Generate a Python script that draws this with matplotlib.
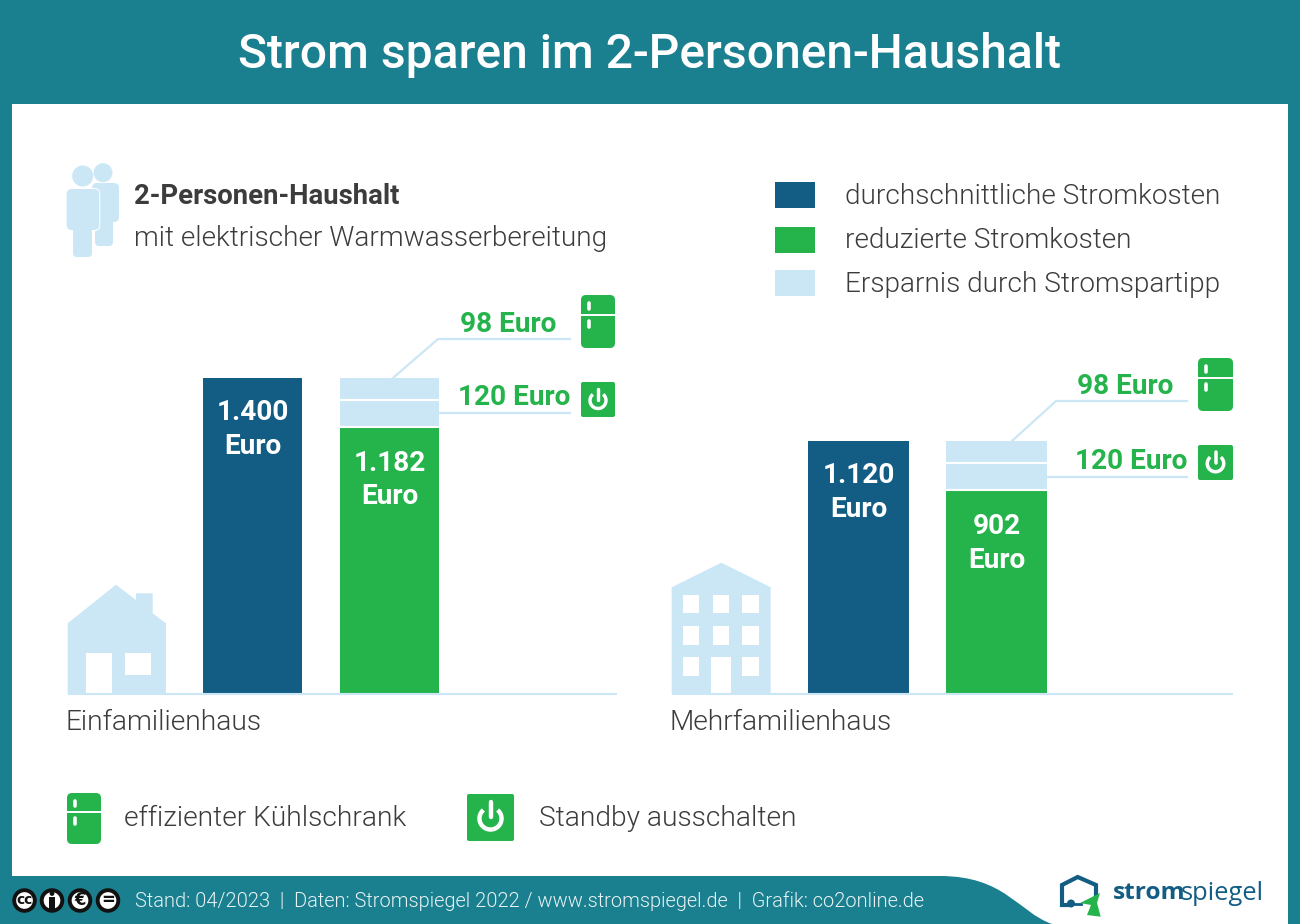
import numpy as np
import matplotlib
matplotlib.use("Agg")
import matplotlib.pyplot as plt
from matplotlib.patches import FancyBboxPatch, Polygon, Circle, Rectangle, PathPatch
from matplotlib.path import Path

# ---------- data ----------
categories = ["durchschnittliche Stromkosten", "reduzierte Stromkosten"]
house_types = ["Einfamilienhaus", "Mehrfamilienhaus"]
average_costs = [1400, 1120]
reduced_costs = [1182, 902]
saving_standby = [120, 120]
saving_fridge = [98, 98]
avg_labels = ["1.400\nEuro", "1.120\nEuro"]
red_labels = ["1.182\nEuro", "902\nEuro"]
fridge_label = "98 Euro"
standby_label = "120 Euro"
legend_labels = ["durchschnittliche Stromkosten", "reduzierte Stromkosten", "Ersparnis durch Stromspartipp"]

TEAL = "#1A7F8E"; BLUE = "#135D85"; GREEN = "#25B34B"; LIGHT = "#CBE7F6"; DARK = "#3C3C3C"
plt.rcParams["font.family"] = ["Roboto", "DejaVu Sans"]
PX = 0.72

fig = plt.figure(figsize=(13, 9.24), dpi=100, facecolor=TEAL)
bg = fig.add_axes([0, 0, 1, 1]); bg.set_xlim(0, 1300); bg.set_ylim(924, 0); bg.axis("off")

# white panel with curved footer
verts = [(12,104),(1288,104),(1288,924),(1052,924),(1018,912),(1005,876),(940,876),(12,876),(12,104)]
codes = [Path.MOVETO,Path.LINETO,Path.LINETO,Path.LINETO,Path.CURVE4,Path.CURVE4,Path.CURVE4,Path.LINETO,Path.CLOSEPOLY]
bg.add_patch(PathPatch(Path(verts,codes), fc="white", ec="none"))

def T(x,y,s,px,color=DARK,weight=300,ha="left",va="center",**k):
    return bg.text(x,y,s,fontsize=px*PX,color=color,fontweight=weight,ha=ha,va=va,**k)

T(650,55,"Strom sparen im 2-Personen-Haushalt",48.05,"white",500,ha="center")
T(134,196,"2-Personen-Haushalt",27.5,DARK,600)
T(133.5,238,"mit elektrischer Warmwasserbereitung",28,DARK,300)

# legend
for (y0,c,lab,yt) in zip([182,227,270],[BLUE,GREEN,LIGHT],legend_labels,[196,240,284]):
    bg.add_patch(Rectangle((775,y0),40,26,fc=c,ec="none"))
    T(845,yt,lab,28)

def rrect(x0,y0,x1,y1,r,fc,z=3):
    bg.add_patch(FancyBboxPatch((x0,y0),x1-x0,y1-y0,boxstyle=f"round,pad=0,rounding_size={r}",fc=fc,ec="none",zorder=z))

def fridge(x0,y0,x1,y1):
    rrect(x0,y0,x1,y1,5,GREEN)
    h=y1-y0
    ym=y0+h*0.37
    bg.plot([x0,x1],[ym,ym],color="white",lw=1.4,zorder=4,solid_capstyle="butt")
    xp=x0+(x1-x0)*0.235
    for a,b in [(0.16,0.26),(0.49,0.60)]:
        bg.plot([xp,xp],[y0+h*a,y0+h*b],color="white",lw=2.6,zorder=4,solid_capstyle="round")

def power(x0,y0,x1,y1):
    rrect(x0,y0,x1,y1,2,GREEN)
    cx,cy=(x0+x1)/2,(y0+y1)/2+1
    s=x1-x0; r=s*0.235
    t=np.radians(np.linspace(-50,230,60))
    bg.plot(cx+r*np.cos(t),cy+r*np.sin(t),color="white",lw=s*0.055+0.6,zorder=4,solid_capstyle="butt")
    bg.plot([cx,cx],[cy-r*1.45,cy-r*0.1],color="white",lw=s*0.055+0.6,zorder=4,solid_capstyle="round")

# person icon
def person(hx,hy,hr,tx0,tx1,ty0,ty1,lx0,lx1,ly1,halo=False,z=2):
    bg.add_patch(Circle((hx,hy),hr,fc=LIGHT,ec="none",zorder=z))
    if halo:
        rrect(tx0-1,ty0-1,tx1+1,ty1+1,6,"white",z)
    rrect(lx0,ty0+10,lx1,ly1,4,LIGHT,z)
    rrect(tx0,ty0,tx1,ty1,5,LIGHT,z)
person(103,172.7,9.5,92,119,183,222,95,113,246)
person(82.7,176,10.5,66.7,99.3,189,230,73,92,257,halo=True,z=3)

# house
bg.add_patch(Polygon([(67.7,623.3),(116,584.7),(136,600),(136,593.3),(152.7,593.3),(152.7,613.3),(166,623.3),(166,694),(67.7,694)],fc=LIGHT,ec="none"))
bg.add_patch(Rectangle((86,653.3),26,40.7,fc="white",ec="none"))
bg.add_patch(Rectangle((125.3,653.3),25.7,21.7,fc="white",ec="none"))
# apartment
bg.add_patch(Polygon([(671.7,587.3),(721.3,562.7),(770.7,587.3),(770.7,694),(671.7,694)],fc=LIGHT,ec="none"))
for wx in (683,712.7,742.3):
    for wy in (595,626.3,657.3):
        if not (wx==712.7 and wy==657.3):
            bg.add_patch(Rectangle((wx,wy),16.3,18.3,fc="white",ec="none"))
bg.add_patch(Rectangle((711,657.3),20.3,36.7,fc="white",ec="none"))

# bars
ppe = 0.2257
configs = [(67.5,617,252.5,137,99.5,0),(671.5,1233,858.5,138,101,1)]
for (xl,xr,c0,sp,w,i) in configs:
    top_units = 1800
    hpx = top_units*ppe
    ax = fig.add_axes([xl/1300,(924-694)/924,(xr-xl)/1300,hpx/924])
    ax.patch.set_alpha(0)
    ax.set_xlim((xl-c0)/sp,(xr-c0)/sp); ax.set_ylim(0,top_units)
    for s in ("top","left","right"): ax.spines[s].set_visible(False)
    ax.spines["bottom"].set_color(LIGHT); ax.spines["bottom"].set_linewidth(1.5); ax.spines["bottom"].set_capstyle("butt")
    ax.set_xticks([]); ax.set_yticks([])
    bw=w/sp
    ax.bar(0,average_costs[i],bw,color=BLUE)
    ax.bar(1,reduced_costs[i],bw,color=GREEN)
    ax.bar(1,saving_standby[i],bw,bottom=reduced_costs[i],color=LIGHT)
    ax.bar(1,saving_fridge[i],bw,bottom=reduced_costs[i]+saving_standby[i],color=LIGHT)
    ax.plot([1-bw/2,1+bw/2],[reduced_costs[i]]*2,color="white",lw=1.5,solid_capstyle="butt")
    ax.plot([1-bw/2,1+bw/2],[reduced_costs[i]+saving_standby[i]]*2,color="white",lw=1.5,solid_capstyle="butt")
    ax.text(0,average_costs[i]-228,avg_labels[i],ha="center",va="center",color="white",fontsize=28*PX,fontweight=600,linespacing=1.32)
    ax.text(1,reduced_costs[i]-234,red_labels[i],ha="center",va="center",color="white",fontsize=28*PX,fontweight=600,linespacing=1.32)

T(66,723,house_types[0],28.1)
T(670,723,house_types[1],28.1)

# callouts
for pts in ([(393,378),(438,339),(570,339)],[(439,413),(570,413)],[(1012,441),(1056,401),(1187,401)],[(1047,477),(1187,477)]):
    xs,ys=zip(*pts); bg.plot(xs,ys,color=LIGHT,lw=1.6,solid_joinstyle="miter",zorder=1)
T(556,325,fridge_label,28,GREEN,600,ha="right")
T(570,397.5,standby_label,28,GREEN,600,ha="right")
T(1173,387,fridge_label,28,GREEN,600,ha="right")
T(1187,461.5,standby_label,28,GREEN,600,ha="right")
fridge(581,295,615,348); power(581,382,615,417)
fridge(1198,358,1233,411); power(1198,445,1233,480)

# bottom legend
fridge(67,793,101,844); T(124,819,"effizienter Kühlschrank",28.1)
power(467,794,514,841); T(539,818,"Standby ausschalten",28.1)

# footer
T(135,901,"Stand: 04/2023  |  Daten: Stromspiegel 2022 / www.stromspiegel.de  |  Grafik: co2online.de",19.96,"#E8F3F5",300)
for cx,s in zip((24.5,52,80,108),("cc","","€","=")):
    bg.add_patch(Circle((cx,900.5),10.3,fc="white",ec="#111111",lw=2.8,zorder=3))
    if s:
        bg.text(cx,900,s,ha="center",va="center",fontsize=(12.5 if s=="cc" else 15)*PX*1.1,fontweight="bold",color="#111111",zorder=4,family="DejaVu Sans")
bg.add_patch(Circle((52,893.5),2.4,fc="#111111",ec="none",zorder=4))
bg.add_patch(Rectangle((49,896.5),6,12,fc="#111111",ec="none",zorder=4))

# logo
bg.plot([1067,1062,1062,1077.7,1096,1096],[905,905,885,877,885,895],color=BLUE,lw=3,solid_joinstyle="miter")
bg.add_patch(Circle((1071,903.5),4,fc=BLUE,ec="none",zorder=3))
bg.plot([1074,1081],[903.5,903.5],color=BLUE,lw=2)
bg.add_patch(Polygon([(1100,893),(1080,903),(1091,905),(1087,915),(1100.7,916.7),(1097,903)],fc=GREEN,ec="none",zorder=4))
T(1113,893,"strom",24.5,BLUE,700,family=["Open Sans","DejaVu Sans"])
T(1181,893,"spiegel",25.5,BLUE,400,family=["Open Sans","DejaVu Sans"])

fig.savefig("out.png",dpi=100,facecolor=TEAL)
